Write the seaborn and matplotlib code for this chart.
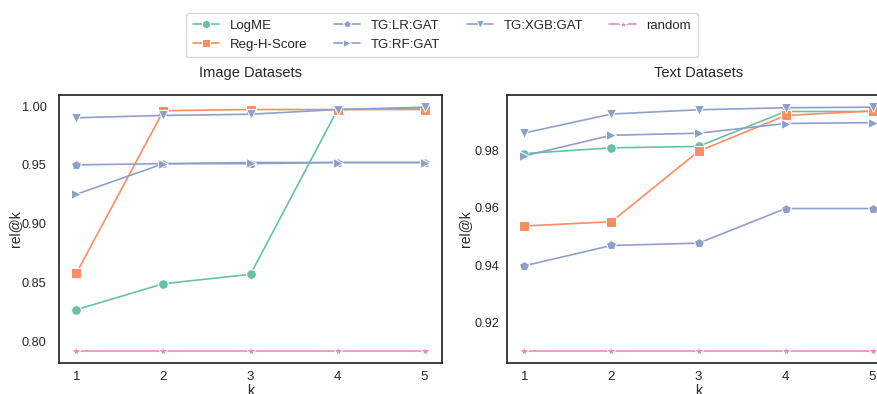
import numpy as np
import pandas as pd
import seaborn as sns
from matplotlib import pyplot as plt

# k values
ks = [1, 2, 3, 4, 5]
methods = ['LogME', 'Reg-H-Score', 'TG:LR:GAT', 'TG:RF:GAT', 'TG:XGB:GAT', 'random']

# Image datasets rel@k
img_logme = [0.827, 0.849, 0.857, 0.997, 0.998]
img_regh = [0.858, 0.996, 0.997, 0.997, 0.997]
img_lr = [0.950, 0.951, 0.951, 0.952, 0.952]
img_rf = [0.925, 0.951, 0.952, 0.952, 0.952]
img_xgb = [0.990, 0.992, 0.993, 0.997, 0.999]
img_random = [0.792, 0.792, 0.792, 0.792, 0.792]

# Text datasets rel@k
txt_logme = [0.979, 0.981, 0.9815, 0.9937, 0.9937]
txt_regh = [0.9537, 0.9552, 0.9798, 0.9923, 0.9939]
txt_lr = [0.9398, 0.9469, 0.9477, 0.9598, 0.9598]
txt_rf = [0.9782, 0.9854, 0.9861, 0.9895, 0.9898]
txt_xgb = [0.9862, 0.9928, 0.9943, 0.9950, 0.9952]
txt_random = [0.9101, 0.9101, 0.9101, 0.9101, 0.9101]


def make_df(series):
    rows = []
    for m, vals in zip(methods, series):
        for k, v in zip(ks, vals):
            rows.append({'k': k, 'rel@k': v, 'method': m})
    return pd.DataFrame(rows)


df_img = make_df([img_logme, img_regh, img_lr, img_rf, img_xgb, img_random])
df_txt = make_df([txt_logme, txt_regh, txt_lr, txt_rf, txt_xgb, txt_random])

sns.set_theme(style='white', context='notebook')
plt.rcParams['font.family'] = ['Liberation Sans', 'DejaVu Sans']
plt.rcParams['xtick.labelsize'] = 9.5
plt.rcParams['ytick.labelsize'] = 9.2
plt.rcParams['axes.labelsize'] = 10
plt.rcParams['axes.titlesize'] = 10.5
plt.rcParams['legend.fontsize'] = 9.5

s2 = sns.color_palette('Set2')
palette = {'LogME': s2[0], 'Reg-H-Score': s2[1], 'TG:LR:GAT': s2[2],
           'TG:RF:GAT': s2[2], 'TG:XGB:GAT': s2[2], 'random': s2[3]}
markers = {'LogME': 'o', 'Reg-H-Score': 's', 'TG:LR:GAT': 'p',
           'TG:RF:GAT': '>', 'TG:XGB:GAT': 'v', 'random': '*'}

fig = plt.figure(figsize=(8.77, 3.94), dpi=100)
ax1 = fig.add_axes([59/877, 31/394, 383/877, 268/394])
ax2 = fig.add_axes([507/877, 31/394, 383/877, 268/394])

for ax, df, title in [(ax1, df_img, 'Image Datasets'), (ax2, df_txt, 'Text Datasets')]:
    sns.lineplot(data=df, x='k', y='rel@k', hue='method', style='method',
                 palette=palette, markers=markers, dashes=False,
                 markersize=7, linewidth=1.2, ax=ax, legend=(ax is ax1))
    ax.set_title(title, pad=13)
    ax.set_xticks(ks)
    ax.tick_params(axis='x', length=0, pad=5.5)
    ax.xaxis.labelpad = 1
    ax.yaxis.set_major_formatter(plt.FormatStrFormatter('%.2f'))

ax1.tick_params(axis='y', length=0, pad=9)
ax1.yaxis.labelpad = 0
ax2.tick_params(axis='y', length=0, pad=5.5)
ax2.yaxis.labelpad = 2

handles, labels = ax1.get_legend_handles_labels()
ax1.get_legend().remove()
fig.legend(handles, labels, loc='upper center', ncol=4,
           bbox_to_anchor=(442/877, 1 - 13/394), borderaxespad=0,
           frameon=True, columnspacing=2.0, markerscale=0.85,
           borderpad=0.5)

fig.savefig('out.png', dpi=100)
